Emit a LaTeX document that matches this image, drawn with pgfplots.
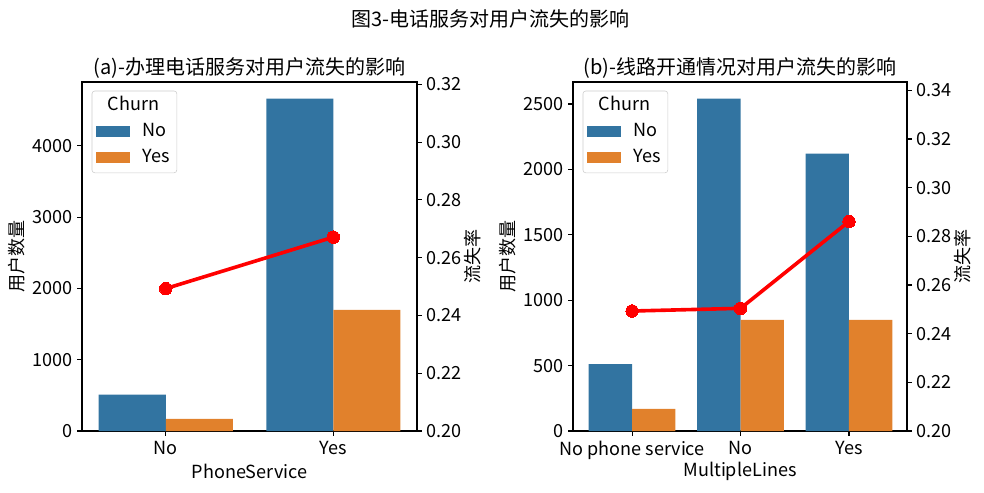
\documentclass[border=0pt]{standalone}
\usepackage{fontspec}
\setmainfont{Noto Sans CJK SC}
\usepackage{pgfplots}
\pgfplotsset{compat=1.18}

\definecolor{sbblue}{RGB}{50,116,161}
\definecolor{sborange}{RGB}{225,129,44}

\pgfplotsset{
  base/.style={
    scale only axis, height=251.28pt, anchor=south west,
    tick label style={font=\fontsize{13}{15}\selectfont},
    label style={font=\fontsize{13}{15}\selectfont},
    title style={font=\fontsize{14.4}{17}\selectfont, yshift=-7pt},
    /pgf/number format/assume math mode=true,
    /pgf/number format/1000 sep={},
    tick align=outside, major tick length=3.5pt,
    axis line style={line width=0.8pt},
    every tick/.style={black, line width=0.8pt},
  },
  cnt/.style={
    base, ymin=0, ytick pos=left, xtick pos=bottom,
    ylabel={用户数量},
    ylabel style={at={(axis description cs:-0.194,0.5)}, anchor=center},
    xlabel style={at={(axis description cs:0.5,-0.115)}, anchor=center},
    legend cell align=left,
    legend style={at={(axis description cs:0.029,0.975)}, anchor=north west,
      draw=black!20, rounded corners=2pt, fill=white,
      font=\fontsize{13}{15}\selectfont, row sep=3.2pt, column sep=7pt, inner sep=3pt,
      nodes={text height=9pt, text depth=2.5pt, inner ysep=2pt}},
  },
  rate/.style={
    base, ymin=0.2, axis y line*=right, axis x line=none,
    ylabel={流失率},
    ylabel style={at={(axis description cs:1.167,0.5)}, anchor=center},
    yticklabel style={/pgf/number format/.cd, fixed, fixed zerofill, precision=2},
    ytick distance=0.02,
  },
  patch/.style={legend image code/.code={\fill[##1, draw=none, sharp corners] (0pt,-3.95pt) rectangle (24.5pt,3.95pt);}},
  bars/.style={ybar, bar width=0.4, draw=none, patch},
  rateline/.style={red, line width=2.6pt, mark=*, mark size=4.5pt,
    mark options={fill=red, draw=red, line width=0pt}},
}

\begin{document}
\begin{tikzpicture}
\path[use as bounding box] (0,0) rectangle (708.48pt,354.24pt);
\node[font=\fontsize{14.4}{17}\selectfont] at (353pt,340.56pt) {图3-电话服务对用户流失的影响};

% (a) PhoneService
\begin{axis}[cnt, at={(59.04pt,43.92pt)}, width=241.2pt,
    xmin=-0.5, xmax=1.5, ymax=4895,
    xtick={0,1}, xticklabels={No,Yes}, xlabel={PhoneService},
    ytick={0,1000,2000,3000,4000},
    title={(a)-办理电话服务对用户流失的影响}]
  \addlegendimage{empty legend}
  \addlegendentry{\hspace{-25.2pt}Churn}
  \addplot[bars, bar shift=-0.2, fill=sbblue] coordinates {(0,512) (1,4662)};
  \addlegendentry{No}
  \addplot[bars, bar shift=0.2, fill=sborange] coordinates {(0,170) (1,1699)};
  \addlegendentry{Yes}
\end{axis}
\begin{axis}[rate, at={(59.04pt,43.92pt)}, width=241.2pt,
    xmin=-0.5, xmax=1.5, ymax=0.3208]
  \addplot[rateline] coordinates {(0,0.2493) (1,0.2671)};
\end{axis}

% (b) MultipleLines
\begin{axis}[cnt, at={(412.56pt,43.92pt)}, width=240.48pt,
    xmin=-0.545, xmax=2.535, ymax=2668,
    xtick={0,1,2}, xticklabels={No phone service,No,Yes}, xlabel={MultipleLines},
    ytick={0,500,1000,1500,2000,2500},
    ylabel style={at={(axis description cs:-0.197,0.5)}},
    title={(b)-线路开通情况对用户流失的影响}]
  \addlegendimage{empty legend}
  \addlegendentry{\hspace{-25.2pt}Churn}
  \addplot[bars, bar shift=-0.2, fill=sbblue] coordinates {(0,512) (1,2541) (2,2121)};
  \addlegendentry{No}
  \addplot[bars, bar shift=0.2, fill=sborange] coordinates {(0,170) (1,849) (2,850)};
  \addlegendentry{Yes}
\end{axis}
\begin{axis}[rate, at={(412.56pt,43.92pt)}, width=240.48pt,
    xmin=-0.545, xmax=2.535, ymax=0.3434]
  \addplot[rateline] coordinates {(0,0.2493) (1,0.2504) (2,0.2861)};
\end{axis}
\end{tikzpicture}
\end{document}
